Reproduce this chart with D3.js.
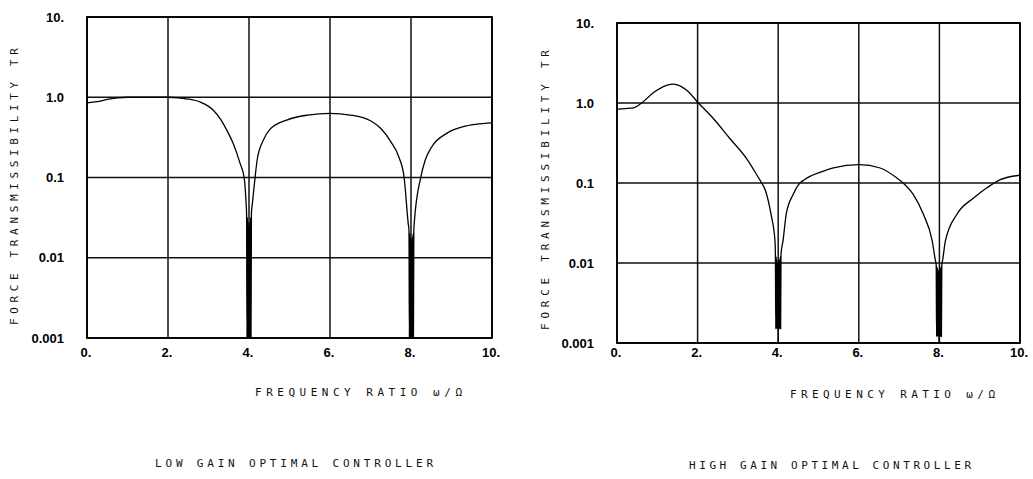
<!DOCTYPE html>
<html>
<head>
<meta charset="utf-8">
<script src="https://cdn.jsdelivr.net/npm/d3@7"></script>
<style>
  body { margin: 0; background: #fff; }
  svg { display: block; }
</style>
</head>
<body>
<svg id="chart" width="1033" height="479"></svg>
<script>
// x axis: frequency ratio w/Omega
const xTicks = [0, 2, 4, 6, 8, 10];
const xTickLabels = ['0.', '2.', '4.', '6.', '8.', '10.'];

// y axis: force transmissibility, log scale
const yTicks = [0.001, 0.01, 0.1, 1, 10];
const yTickLabels = ['0.001', '0.01', '0.1', '1.0', '10.'];

// low gain optimal controller (notches drawn as dense zigzag)
const lowGainRatio = [0, 0.25, 0.5, 0.75, 1.0, 1.5, 2.0, 2.5, 2.8, 3.12, 3.3, 3.45, 3.61, 3.78, 3.88, 3.93,
    3.94, 3.95, 3.96, 3.97, 3.98, 3.99, 4.0, 4.01, 4.02, 4.03, 4.04, 4.05, 4.06,
    4.08, 4.15, 4.2, 4.35, 4.5, 4.93, 5.45, 6.0, 6.5, 7.0, 7.25, 7.5, 7.7, 7.83, 7.93,
    7.95, 7.96, 7.97, 7.98, 7.99, 8.0, 8.01, 8.02, 8.03, 8.04, 8.05, 8.06, 8.07,
    8.08, 8.24, 8.35, 8.51, 8.88, 9.29, 9.6, 10];
const lowGainTR = [0.85, 0.88, 0.94, 0.98, 1.0, 1.0, 1.0, 0.95, 0.87, 0.69, 0.53, 0.39, 0.265, 0.15, 0.1, 0.046,
    0.036, 0.001, 0.032, 0.001, 0.028, 0.001, 0.025, 0.001, 0.028, 0.001, 0.032, 0.001, 0.036,
    0.046, 0.1, 0.164, 0.29, 0.39, 0.52, 0.6, 0.63, 0.6, 0.51, 0.41, 0.28, 0.18, 0.1, 0.027,
    0.022, 0.001, 0.02, 0.001, 0.018, 0.001, 0.016, 0.001, 0.018, 0.001, 0.02, 0.001, 0.022,
    0.027, 0.1, 0.164, 0.24, 0.355, 0.43, 0.46, 0.48];

// high gain optimal controller
const highGainRatio = [0, 0.2, 0.41, 0.61, 0.9, 1.23, 1.4, 1.73, 2.02, 2.39, 2.8, 3.22, 3.47, 3.59, 3.69, 3.82, 3.92,
    3.93, 3.94, 3.95, 3.96, 3.97, 3.98, 3.99, 4.0, 4.01, 4.02, 4.03, 4.04, 4.05, 4.06, 4.07,
    4.12, 4.2, 4.37, 4.5, 4.65, 4.8, 5.0, 5.37, 6.01, 6.53, 6.94, 7.1, 7.35, 7.6, 7.82, 7.9,
    7.92, 7.93, 7.94, 7.95, 7.96, 7.97, 7.98, 7.99, 8.0, 8.01, 8.02, 8.03, 8.04, 8.05, 8.06,
    8.08, 8.15, 8.44, 8.85, 9.18, 9.51, 10];
const highGainTR = [0.835, 0.85, 0.87, 1.0, 1.34, 1.66, 1.72, 1.44, 1.0, 0.64, 0.36, 0.2, 0.126, 0.1, 0.079, 0.041, 0.019,
    0.013, 0.0015, 0.012, 0.0015, 0.011, 0.0015, 0.01, 0.001, 0.01, 0.0015, 0.011, 0.0015, 0.012, 0.0015, 0.013,
    0.019, 0.041, 0.072, 0.095, 0.11, 0.122, 0.134, 0.155, 0.17, 0.154, 0.116, 0.1, 0.072, 0.041, 0.019, 0.0108,
    0.0095, 0.0012, 0.009, 0.0012, 0.0085, 0.0012, 0.008, 0.001, 0.008, 0.0012, 0.0085, 0.0012, 0.009, 0.0012, 0.0095,
    0.0108, 0.019, 0.041, 0.065, 0.087, 0.11, 0.125];

const yTitleText = 'FORCE TRANSMISSIBILITY   TR';
const xTitleText = 'FREQUENCY RATIO  \u03c9/\u03a9';
const captions = ['LOW GAIN OPTIMAL CONTROLLER', 'HIGH GAIN OPTIMAL CONTROLLER'];

// layout of the two scanned panels
const panels = [
    { ratio: lowGainRatio, tr: lowGainTR, caption: captions[0],
      left: 87, right: 492, top: 17, bottom: 338, tickY: 357,
      yTitle: { x: 18, y: 325, len: 277 },
      xTitle: { x: 255, y: 396, len: 207 },
      cap: { x: 155, y: 467, len: 278 } },
    { ratio: highGainRatio, tr: highGainTR, caption: captions[1],
      left: 617, right: 1020, top: 23, bottom: 343, tickY: 357,
      yTitle: { x: 549, y: 330, len: 280 },
      xTitle: { x: 790, y: 398, len: 205 },
      cap: { x: 689, y: 469, len: 282 } }
];

const svg = d3.select('#chart');
const labelFont = "'DejaVu Sans Mono', monospace";
const tickFont = "'Liberation Sans', Arial, sans-serif";

panels.forEach(p => {
    const x = d3.scaleLinear().domain([0, 10]).range([p.left, p.right]);
    const y = d3.scaleLog().domain([0.001, 10]).range([p.bottom, p.top]);
    const g = svg.append('g');

    // grid lines
    g.selectAll('.vgrid').data(xTicks).enter().append('line')
        .attr('x1', d => x(d)).attr('x2', d => x(d))
        .attr('y1', p.top).attr('y2', p.bottom)
        .attr('stroke', '#111').attr('stroke-width', 1.5);

    g.selectAll('.hgrid').data(yTicks).enter().append('line')
        .attr('x1', p.left).attr('x2', p.right)
        .attr('y1', d => y(d)).attr('y2', d => y(d))
        .attr('stroke', '#111').attr('stroke-width', 1.5);

    // frame
    g.append('rect')
        .attr('x', p.left).attr('y', p.top)
        .attr('width', p.right - p.left).attr('height', p.bottom - p.top)
        .attr('fill', 'none').attr('stroke', '#000').attr('stroke-width', 1.8);

    // tick labels
    g.selectAll('.ylab').data(yTicks).enter().append('text')
        .attr('x', p.left - 23).attr('y', d => y(d))
        .attr('dy', '0.35em')
        .attr('text-anchor', 'end')
        .attr('font-family', tickFont).attr('font-weight', 'bold').attr('font-size', 13)
        .text((d, i) => yTickLabels[i]);

    g.selectAll('.xlab').data(xTicks).enter().append('text')
        .attr('x', d => x(d) - 1).attr('y', p.tickY)
        .attr('text-anchor', 'middle')
        .attr('font-family', tickFont).attr('font-weight', 'bold').attr('font-size', 13)
        .text((d, i) => xTickLabels[i]);

    // curve
    const pts = p.ratio.map((r, i) => [r, p.tr[i]]);
    const line = d3.line().x(d => x(d[0])).y(d => y(d[1])).curve(d3.curveMonotoneX);
    g.append('path')
        .attr('d', line(pts))
        .attr('fill', 'none').attr('stroke', '#000')
        .attr('stroke-width', 1.3).attr('stroke-linejoin', 'round');

    // axis titles, plotter style lettering
    g.append('text')
        .attr('transform', `translate(${p.yTitle.x},${p.yTitle.y}) rotate(-90)`)
        .attr('font-family', labelFont).attr('font-size', 11).attr('fill', '#111')
        .attr('textLength', p.yTitle.len).attr('lengthAdjust', 'spacing')
        .text(yTitleText);

    g.append('text')
        .attr('x', p.xTitle.x).attr('y', p.xTitle.y)
        .attr('font-family', labelFont).attr('font-size', 11).attr('fill', '#111')
        .attr('textLength', p.xTitle.len).attr('lengthAdjust', 'spacing')
        .text(xTitleText);

    g.append('text')
        .attr('x', p.cap.x).attr('y', p.cap.y)
        .attr('font-family', labelFont).attr('font-size', 11).attr('fill', '#111')
        .attr('textLength', p.cap.len).attr('lengthAdjust', 'spacing')
        .text(p.caption);
});
</script>
</body>
</html>
